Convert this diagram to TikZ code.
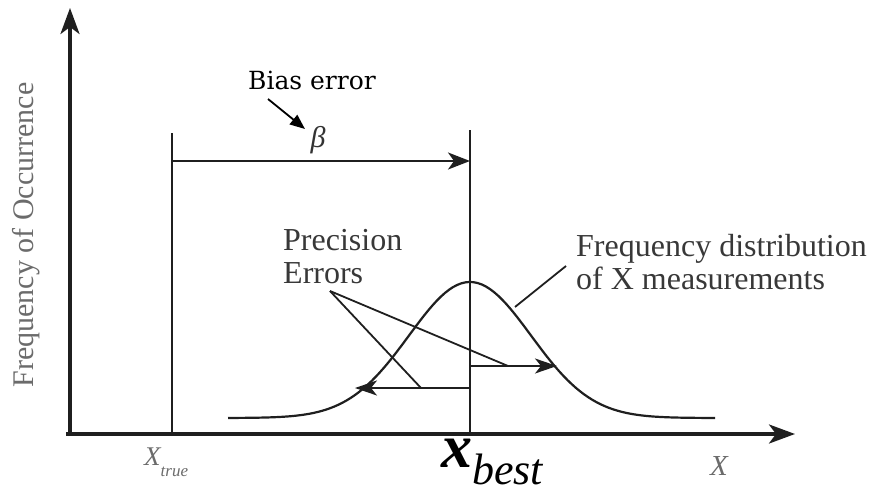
\documentclass[tikz,border=0pt]{standalone}
\usepackage{fontspec}
\usepackage{xcolor}
\usepackage{tikz}
\usetikzlibrary{positioning,arrows.meta}
\newfontfamily\timesfont{Liberation Serif}
\newfontfamily\centfont{DejaVu Serif}
\definecolor{ink}{gray}{0.12}
\definecolor{faint}{gray}{0.42}

\begin{document}
\begin{tikzpicture}[x=1pt,y=-1pt,
  axis/.style={draw=ink,line width=3.6pt,-{Stealth[length=26pt,width=19pt,inset=7pt]}},
  mark line/.style={draw=ink,line width=1.8pt},
  bias/.style={draw=ink,line width=1.8pt,-{Stealth[length=22pt,width=17pt,inset=6pt]}},
  spread/.style={draw=ink,line width=1.8pt,-{Stealth[length=22pt,width=15pt,inset=6pt]}},
  pointer/.style={draw=ink,line width=1.8pt},
  curve/.style={draw=ink,line width=2.2pt},
  label/.style={inner sep=0pt,font=\timesfont\fontsize{32}{33}\selectfont,text=black!78,align=left},
  axis label/.style={inner sep=0pt,text=faint}]
\useasboundingbox (0,0) rectangle (881,497);
% axes
\coordinate (origin) at (70,434);
\coordinate (ytip) at (70,8);
\coordinate (xtip) at (795,434);
\coordinate (xstart) at (66,434);
\draw[axis] (70,436) -- (ytip);
\draw[axis] (xstart) -- (xtip);
% true and best values
\coordinate (truebase) at (172,434);
\coordinate (truetop) at (172,133);
\coordinate (bestbase) at (470,434);
\coordinate (besttop) at (470,130);
\draw[mark line] (truebase) -- (truetop);
\draw[mark line] (bestbase) -- (besttop);
\coordinate (biasL) at (172,161);
\coordinate (biasR) at (470,161);
\draw[bias] (biasL) -- (biasR);
\node[inner sep=0pt,font=\timesfont\itshape\fontsize{30}{30}\selectfont,text=black!80] (beta) at (318,140) {β};
\node[inner sep=0pt,font=\centfont\fontsize{25}{25}\selectfont] (biastext) at (312,80) {Bias error};
\coordinate (biasptr) at (305,129);
\draw[-{Triangle[length=15pt,width=12pt]},line width=1.8pt] (268,99) -- (biasptr);
% distribution
\draw[curve] plot[domain=228:715,samples=120] (\x,{418-136*exp(-0.5*((\x-470)/61)^2)});
\coordinate (negL) at (470,388);
\coordinate (negtip) at (355,388);
\coordinate (posL) at (470,366);
\coordinate (postip) at (557,366);
\draw[spread] (negL) -- (negtip);
\draw[spread] (posL) -- (postip);
\node[label,anchor=north west] (prec) at (283,229) {Precision\\Errors};
\coordinate (precfoot) at (330,291);
\coordinate (negmark) at (421,388);
\coordinate (posmark) at (508,366);
\draw[pointer] (precfoot) -- (negmark);
\draw[pointer] (precfoot) -- (posmark);
\node[label,anchor=north west] (freq) at (576,234) {Frequency distribution\\of X measurements};
\coordinate (freqfoot) at (515,307);
\coordinate (freqhead) at (566,266);
\draw[pointer] (freqfoot) -- (freqhead);
% axis labels
\node[axis label,rotate=90,anchor=base,font=\timesfont\fontsize{30}{30}\selectfont] (ylbl) at (34,235) {Frequency of Occurrence};
\node[axis label,anchor=base west,font=\timesfont\itshape\fontsize{27}{27}\selectfont] (truelbl) at (144,465) {X\raisebox{-11pt}{\fontsize{17}{17}\selectfont true}};
\node[axis label,anchor=base west,font=\timesfont\itshape\fontsize{29}{29}\selectfont] (xlbl) at (710,475) {X};
\node[inner sep=0pt,anchor=base west,font=\timesfont\itshape\fontsize{62}{62}\selectfont] (bestlbl) at (441,467) {\bfseries x\raisebox{-17pt}{\mdseries\fontsize{44}{44}\selectfont best}};
\end{tikzpicture}
\end{document}
